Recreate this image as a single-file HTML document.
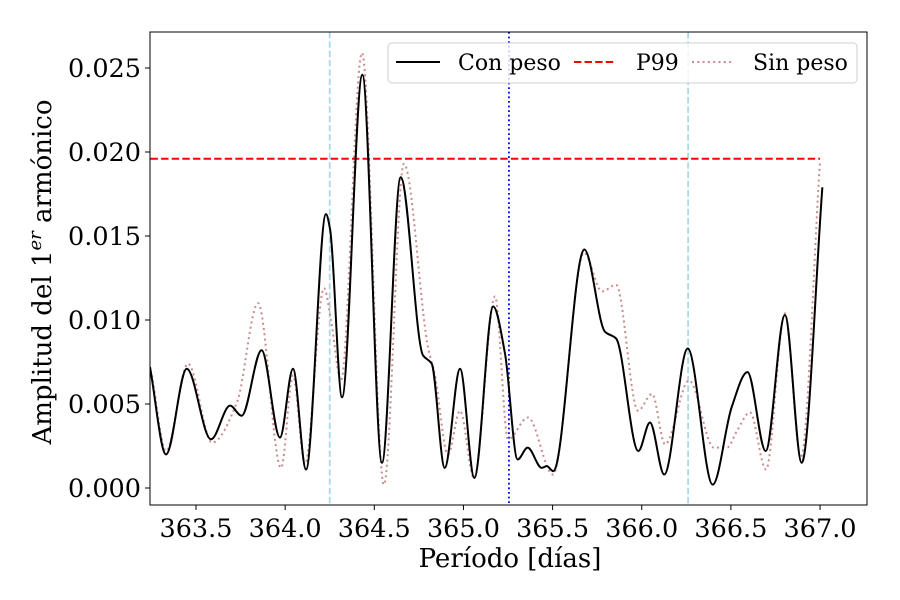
<!DOCTYPE html>
<html><head><meta charset="utf-8">
<style>
body{margin:0;background:#fff}
svg text{font-family:"DejaVu Serif","Liberation Serif",serif;fill:#000}
</style></head>
<body>
<svg id="chart" width="900" height="600" viewBox="0 0 900 600" xmlns="http://www.w3.org/2000/svg" style="position:absolute;left:0;top:0">
<rect width="900" height="600" fill="#fff"/>
<g id="plot"></g>
</svg>
<script>
const conX=[363.242,363.332,363.448,363.584,363.691,363.756,363.868,363.971,364.044,364.117,364.229,364.252,364.319,364.433,364.543,364.648,364.773,364.822,364.895,364.981,365.061,365.167,365.233,365.304,365.360,365.439,365.467,365.504,365.678,365.794,365.856,365.981,366.046,366.126,366.258,366.398,366.504,366.593,366.695,366.803,366.897,367.013];
const conY=[0.0072,0.0020,0.0071,0.0029,0.0049,0.0043,0.0082,0.0030,0.0071,0.0011,0.0163,0.0154,0.0054,0.0246,0.0015,0.0185,0.0079,0.0074,0.0012,0.0071,0.0006,0.0108,0.0080,0.0017,0.0024,0.0012,0.0013,0.0010,0.0142,0.0093,0.0089,0.0022,0.0039,0.0008,0.0083,0.0002,0.0048,0.0069,0.0022,0.0103,0.0015,0.0179];
const sinX=[363.253,363.332,363.455,363.590,363.730,363.848,363.977,364.044,364.111,364.218,364.257,364.313,364.431,364.554,364.666,364.801,364.840,364.913,364.981,365.059,365.177,365.250,365.362,365.502,365.676,365.777,365.856,365.979,366.058,366.131,366.265,366.405,366.478,366.534,366.607,366.697,366.803,366.892,367.000];
const sinY=[0.0067,0.0022,0.0074,0.0027,0.0051,0.0110,0.0012,0.0067,0.0014,0.0119,0.0100,0.0064,0.0259,0.0002,0.0193,0.0084,0.0067,0.0020,0.0046,0.0006,0.0114,0.0029,0.0042,0.0008,0.0140,0.0117,0.0121,0.0046,0.0056,0.0026,0.0064,0.0024,0.0024,0.0034,0.0045,0.0011,0.0104,0.0018,0.0195];
const p99Value=0.0196;
const p99Range=[363.245,367.0];
const cyanLines=[364.25,366.26];
const blueLine=365.255;
const xTicks=[363.5,364.0,364.5,365.0,365.5,366.0,366.5,367.0];
const xTickLabels=["363.5","364.0","364.5","365.0","365.5","366.0","366.5","367.0"];
const yTicks=[0,0.005,0.010,0.015,0.020,0.025];
const yTickLabels=["0.000","0.005","0.010","0.015","0.020","0.025"];

const L=150,R=867,T=32,B=505;
const X=v=>196+(v-363.5)*178.3;
const Y=v=>488-v*16800;
const NS="http://www.w3.org/2000/svg";
const g=document.getElementById('plot');
function mk(tag,attrs,parent){const e=document.createElementNS(NS,tag);for(const k in attrs)e.setAttribute(k,attrs[k]);(parent||g).appendChild(e);return e;}
function smooth(xs,ys){
  const px=xs.map(X),py=ys.map(Y),n=px.length;
  const d=[],m=new Array(n);
  for(let i=0;i<n-1;i++)d.push((py[i+1]-py[i])/(px[i+1]-px[i]));
  m[0]=d[0];m[n-1]=d[n-2];
  for(let i=1;i<n-1;i++){
    if(d[i-1]*d[i]<=0)m[i]=0;
    else{const w1=2*(px[i+1]-px[i])+(px[i]-px[i-1]),w2=(px[i+1]-px[i])+2*(px[i]-px[i-1]);m[i]=(w1+w2)/(w1/d[i-1]+w2/d[i]);}
  }
  let s=`M${px[0]},${py[0]}`;
  for(let i=0;i<n-1;i++){
    const h=(px[i+1]-px[i])/3;
    s+=`C${px[i]+h},${py[i]+m[i]*h} ${px[i+1]-h},${py[i+1]-m[i+1]*h} ${px[i+1]},${py[i+1]}`;
  }
  return s;
}
const defs=mk('defs',{});
const cp=mk('clipPath',{id:'clip'},defs);
mk('rect',{x:L,y:T,width:R-L,height:B-T},cp);
const inner=mk('g',{'clip-path':'url(#clip)'});

cyanLines.forEach(v=>{
  const l=mk('line',{x1:X(v),x2:X(v),y1:T,y2:B,stroke:'#add8e6','stroke-width':1.8,'stroke-dasharray':'6.5,2.8'},inner);
  
  
});
const bl=mk('line',{x1:X(blueLine),x2:X(blueLine),y1:T,y2:B,stroke:'#0000ff','stroke-width':1.8,'stroke-dasharray':'1.8,2.8'},inner);



const sp=mk('path',{d:smooth(sinX,sinY),fill:'none',stroke:'#c98b8b','stroke-width':2,'stroke-dasharray':'2,3.3'},inner);


const pl=mk('line',{x1:X(p99Range[0]),x2:X(p99Range[1]),y1:Y(p99Value),y2:Y(p99Value),stroke:'#ff0000','stroke-width':2,'stroke-dasharray':'7.4,3.2'},inner);


const cpth=mk('path',{d:smooth(conX,conY),fill:'none',stroke:'#000','stroke-width':2},inner);



const frame=mk('rect',{x:L,y:T,width:R-L,height:B-T,fill:'none',stroke:'#000','stroke-width':1});



xTicks.forEach((v,i)=>{
  mk('line',{x1:X(v),x2:X(v),y1:B,y2:B+5,stroke:'#000'});
  const t=mk('text',{x:X(v),y:B+32,'text-anchor':'middle','font-size':25.5});
  t.textContent=xTickLabels[i];
  
  
});
yTicks.forEach((v,i)=>{
  mk('line',{x1:L-5,x2:L,y1:Y(v),y2:Y(v),stroke:'#000'});
  const t=mk('text',{x:L-9,y:Y(v)+9,'text-anchor':'end','font-size':25.5});
  t.textContent=yTickLabels[i];
  
  
});
</script>
<svg style="position:absolute;left:0;top:0" width="900" height="600">
<text x="510" y="567" text-anchor="middle" font-size="26" font-family="DejaVu Serif, Liberation Serif, serif">Período [días]</text>
<text transform="translate(51,272) rotate(-90)" text-anchor="middle" font-size="26" font-family="DejaVu Serif, Liberation Serif, serif">Amplitud del 1<tspan font-size="18" font-style="italic" dy="-10">er</tspan><tspan dy="10"> armónico</tspan></text>
<g font-family="DejaVu Serif, Liberation Serif, serif" font-size="22">
<rect x="388" y="43" width="469" height="40" rx="4" fill="#fff" fill-opacity="0.8" stroke="#d0d0d0"/>
<line x1="396" x2="440" y1="62" y2="62" stroke="#000" stroke-width="2"/>
<text x="458" y="70">Con peso</text>
<line x1="574" x2="614" y1="62" y2="62" stroke="#ff0000" stroke-width="2" stroke-dasharray="7.4,3.2"/>
<text x="636" y="70">P99</text>
<line x1="692" x2="734" y1="62" y2="62" stroke="#c98b8b" stroke-width="2" stroke-dasharray="2,3.3"/>
<text x="753" y="70">Sin peso</text>
</g>
</svg>
</body></html>
